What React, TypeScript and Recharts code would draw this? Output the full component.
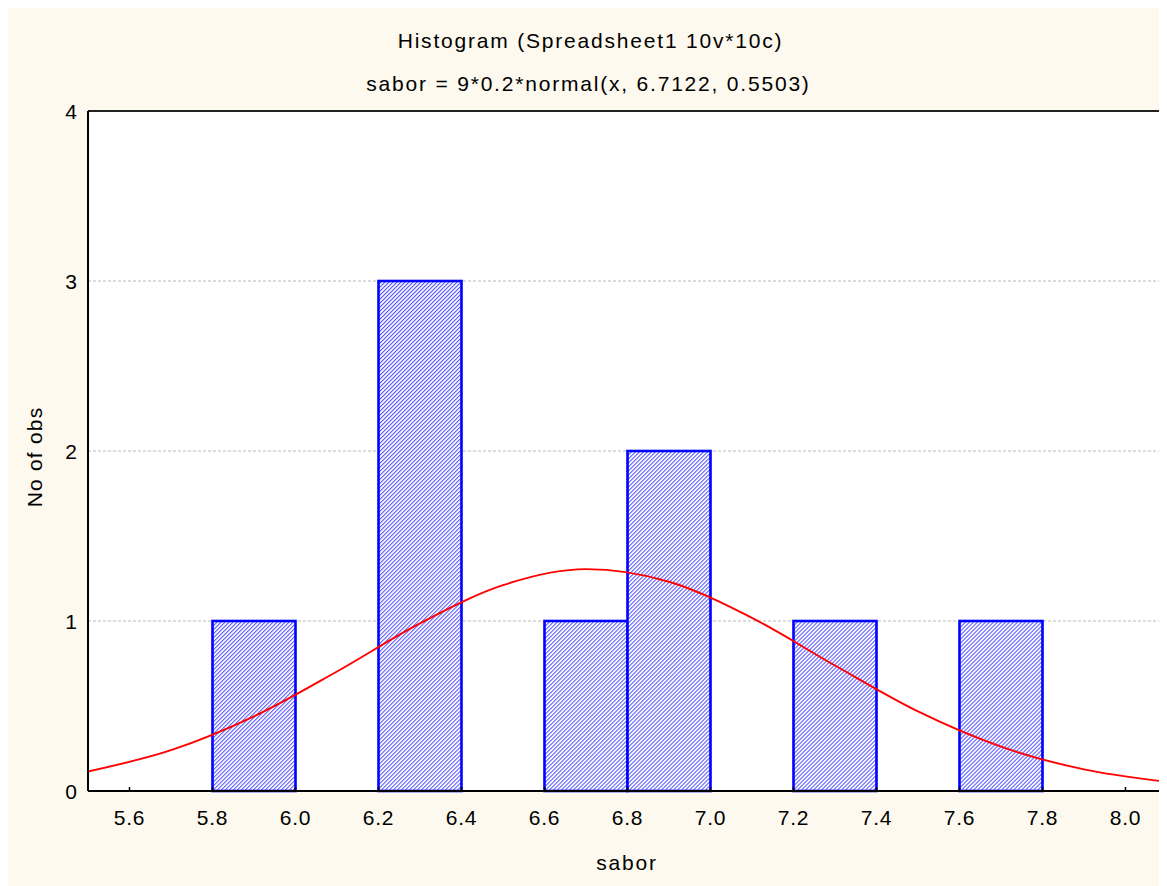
import React from 'react';
import { ComposedChart, Bar, Line, XAxis, YAxis, CartesianGrid } from 'recharts';

// x positions (bin centres of 0.2-wide bins, plus curve sample points)
const xValues = [5.5, 5.7, 5.9, 6.1, 6.3, 6.5, 6.7, 6.9, 7.1, 7.3, 7.5, 7.7, 7.9, 8.1];
// number of observations in each bin (null = no bar)
const counts: (number | null)[] = [null, null, 1, null, 3, null, 1, 2, null, 1, null, 1, null, null];
// fitted normal curve
const curve = [0.115, 0.24, 0.439, 0.703, 0.986, 1.211, 1.305, 1.231, 1.018, 0.738, 0.468, 0.261, 0.127, 0.054];

const xTicks = [5.6, 5.8, 6.0, 6.2, 6.4, 6.6, 6.8, 7.0, 7.2, 7.4, 7.6, 7.8, 8.0];
const yTicks = [0, 1, 2, 3, 4];

const data = xValues.map((x, i) => ({ x, count: counts[i], curve: curve[i] }));

const FONT = '"Liberation Sans", Arial, sans-serif';
const CREAM = '#FDF9EE';

const BottomTick = (props: any) => {
  const { x, y, payload } = props;
  return (
    <g>
      <line x1={x} x2={x} y1={y} y2={y - 4} stroke="#000" strokeWidth={1.5} />
      <text x={x} y={y + 34} textAnchor="middle" fontSize={21} letterSpacing={0.8} fontFamily={FONT} fill="#000">
        {Number(payload.value).toFixed(1)}
      </text>
    </g>
  );
};

const LeftTick = (props: any) => {
  const { x, y, payload } = props;
  return (
    <text x={x} y={y + 7.5} textAnchor="end" fontSize={21} fontFamily={FONT} fill="#000">
      {payload.value}
    </text>
  );
};

const HatchBar = (props: any) => {
  const { x, y, width, height, index } = props;
  if (!height || !width) return null;
  const id = `hatch-${index}`;
  return (
    <g>
      <defs>
        <pattern id={id} patternUnits="userSpaceOnUse" width={2.83} height={2.83} patternTransform="rotate(45)">
          <rect x={0} y={0} width={2.83} height={2.83} fill="#ffffff" />
          <rect x={0} y={0} width={1.05} height={2.83} fill="#5252ff" />
        </pattern>
      </defs>
      <rect x={x} y={y} width={width} height={height} fill={`url(#${id})`} stroke="#0000ff" strokeWidth={2.6} />
    </g>
  );
};

export default function App() {
  const textStyle: React.CSSProperties = { position: 'absolute', textAlign: 'center', fontSize: 21, color: '#000', lineHeight: '26px', whiteSpace: 'nowrap' };
  return (
    <div style={{ position: 'relative', marginLeft: -2, width: 1161, height: 878, background: CREAM, fontFamily: FONT }}>
      <div style={{ ...textStyle, left: 4, width: 1161, top: 20, letterSpacing: 1.8 }}>
        Histogram (Spreadsheet1 10v*10c)
      </div>
      <div style={{ ...textStyle, left: 2, width: 1161, top: 63, letterSpacing: 1.8 }}>
        sabor = 9*0.2*normal(x, 6.7122, 0.5503)
      </div>
      <div style={{ ...textStyle, left: 82, width: 1078, top: 842, letterSpacing: 1.8 }}>
        sabor
      </div>
      <div style={{ ...textStyle, left: 29 - 70, top: 449 - 13, width: 140, letterSpacing: 1.2, transform: 'rotate(-90deg)' }}>
        No of obs
      </div>
      <div style={{ position: 'absolute', left: 82, top: 104, width: 1078, height: 679, background: '#fff' }} />
      <div style={{ position: 'absolute', left: 0, top: 0 }}>
        <ComposedChart
          width={1161}
          height={878}
          data={data}
          margin={{ top: 103, right: 0, bottom: 55, left: 42 }}
          barCategoryGap={0}
          barGap={0}
        >
          <CartesianGrid vertical={false} stroke="#b8b8b8" strokeDasharray="3 2" />
          <XAxis
            dataKey="x"
            type="number"
            domain={[5.5, 8.1]}
            ticks={xTicks}
            allowDataOverflow
            height={40}
            tickSize={0}
            tickMargin={0}
            tickLine={false}
            tick={<BottomTick />}
            axisLine={{ stroke: '#000', strokeWidth: 2 }}
            interval={0}
          />
          <XAxis
            xAxisId="top"
            orientation="top"
            dataKey="x"
            type="number"
            domain={[5.5, 8.1]}
            ticks={xTicks}
            allowDataOverflow
            height={1}
            mirror
            tick={false}
            tickSize={4}
            tickLine={{ stroke: '#000', strokeWidth: 1.5 }}
            axisLine={{ stroke: '#222', strokeWidth: 2 }}
            interval={0}
          />
          <YAxis
            type="number"
            domain={[0, 4]}
            ticks={yTicks}
            width={40}
            tickSize={0}
            tickMargin={11}
            tickLine={false}
            tick={<LeftTick />}
            axisLine={{ stroke: '#000', strokeWidth: 2 }}
            interval={0}
          />
          <YAxis
            yAxisId="right"
            orientation="right"
            type="number"
            domain={[0, 4]}
            ticks={yTicks}
            width={1}
            mirror
            tick={false}
            tickSize={4}
            tickLine={{ stroke: '#000', strokeWidth: 1.5 }}
            axisLine={{ stroke: '#222', strokeWidth: 2 }}
            interval={0}
          />
          <Bar
            dataKey="count"
            fill="#5252ff"
            stroke="#0000ff"
            strokeWidth={2.6}
            shape={<HatchBar />}
            isAnimationActive={false}
          />
          <Line
            dataKey="curve"
            type="monotone"
            stroke="#ff0000"
            strokeWidth={1.9}
            dot={false}
            activeDot={false}
            isAnimationActive={false}
          />
        </ComposedChart>
      </div>
    </div>
  );
}
